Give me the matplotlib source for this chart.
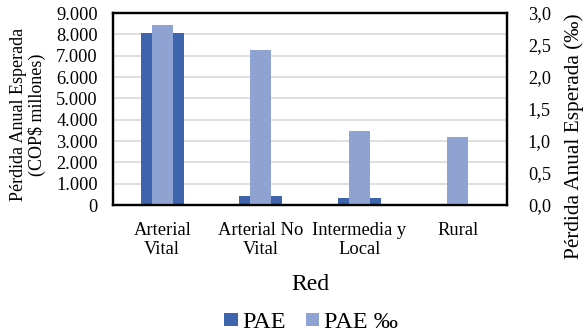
import matplotlib
matplotlib.use("Agg")
import matplotlib.pyplot as plt
from matplotlib.ticker import FuncFormatter, MultipleLocator
import numpy as np

# Pérdida anual esperada por tipo de red
categories = ["Arterial\nVital", "Arterial No\nVital", "Intermedia y\nLocal", "Rural"]
pae_millones = [8050, 420, 315, 25]          # COP$ millones (eje izquierdo)
pae_por_mil = [2.81, 2.42, 1.16, 1.07]       # ‰ (eje derecho)

dark_blue = "#3D64AD"
light_blue = "#8FA3D3"
grid_gray = "#D9D9D9"

plt.rcParams["font.family"] = ["Liberation Serif", "DejaVu Serif"]

fig = plt.figure(figsize=(5.87, 3.35), dpi=100)
ax = fig.add_axes([113 / 587, 1 - 205 / 335, 394 / 587, 192 / 335])
ax2 = ax.twinx()

x = np.arange(len(categories))
ax.bar(x, pae_millones, width=0.44, color=dark_blue, zorder=2, label="PAE")
ax2.bar(x, pae_por_mil, width=0.215, color=light_blue, zorder=2, label="PAE ‰")

ax.set_xlim(-0.5, len(categories) - 0.5)
ax.set_ylim(0, 9000)
ax2.set_ylim(0, 3.0)

ax.yaxis.set_major_locator(MultipleLocator(1000))
ax2.yaxis.set_major_locator(MultipleLocator(0.5))
ax.yaxis.set_major_formatter(FuncFormatter(lambda v, p: f"{int(v):,}".replace(",", ".")))
ax2.yaxis.set_major_formatter(FuncFormatter(lambda v, p: f"{v:.1f}".replace(".", ",")))

ax.grid(axis="y", color=grid_gray, linewidth=1.2, zorder=0)
ax.set_axisbelow(True)

ax.set_xticks(x)
ax.set_xticklabels(categories, fontsize=13.3, linespacing=1.2)
ax.tick_params(axis="x", length=0, pad=12)
ax.tick_params(axis="y", length=0, pad=11, labelsize=13.2)
ax2.tick_params(axis="y", length=0, pad=15, labelsize=13.2)

for a in (ax, ax2):
    for s in a.spines.values():
        s.set_linewidth(1.6)
        s.set_color("black")

ax.set_ylabel("Pérdida Anual Esperada\n(COP$ millones)", fontsize=13, linespacing=1.05)
ax.yaxis.set_label_coords(-0.215, 0.47)
ax.yaxis.label.set_va("center")
ax2.set_ylabel("Pérdida Anual Esperada (‰)", fontsize=15.3)
ax2.yaxis.set_label_coords(1.17, 0.36)
ax2.yaxis.label.set_va("center")
ax.set_xlabel("Red", fontsize=17)
ax.xaxis.set_label_coords(0.5, -0.36)

handles = [ax.patches[0], ax2.patches[0]]
fig.legend(handles, ["PAE", "PAE ‰"], loc="center", bbox_to_anchor=(311 / 587, 0.037),
           ncol=2, frameon=False, fontsize=17.5, handlelength=0.55, handleheight=0.5,
           handletextpad=0.2, columnspacing=0.8, borderaxespad=0)

fig.savefig("out.png", dpi=100)
